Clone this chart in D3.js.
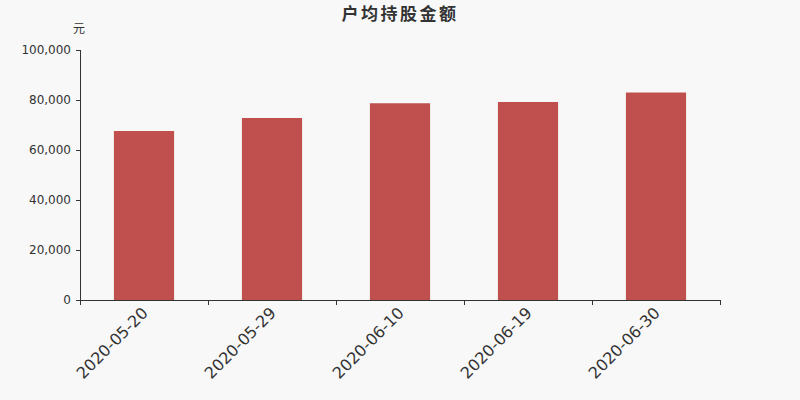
<!DOCTYPE html>
<html lang="zh">
  <head>
    <meta charset="utf-8">
    <title>户均持股金额</title>
    <script src="https://d3js.org/d3.v7.min.js"></script>
    <style>
      body { margin: 0; background: #f8f8f8; }
      text { font-family: "DejaVu Sans", sans-serif; }
    </style>
  </head>
  <body>
    <script type="text/javascript">

      var w = 800;
      var h = 400;
      var margin = {top: 50, right: 80, bottom: 100, left: 80};

      var dates = ["2020-05-20", "2020-05-29", "2020-06-10", "2020-06-19", "2020-06-30"];
      var amounts = [67600, 72800, 78700, 79200, 83000];
      var yticks = [0, 20000, 40000, 60000, 80000, 100000];

      var svg = d3.select("body")
          .append("svg")
          .attr("width", w)
          .attr("height", h)
          .style("background", "#f8f8f8");

      var xscale = d3.scaleBand()
            .domain(dates)
            .range([margin.left, w - margin.right])
            .paddingInner(0.53)
            .paddingOuter(0.265);

      var xband = d3.scaleBand()
            .domain(dates)
            .range([margin.left, w - margin.right]);

      var yscale = d3.scaleLinear()
            .domain([0, 100000])
            .range([h - margin.bottom, margin.top]);

      // title + unit
      svg.append("text")
        .attr("x", 400)
        .attr("y", 20)
        .attr("text-anchor", "middle")
        .attr("font-size", 17)
        .attr("font-weight", "bold")
        .attr("letter-spacing", 2.5)
        .attr("fill", "#333")
        .style("font-family", "'Noto Sans CJK SC', sans-serif")
        .text("户均持股金额");

      svg.append("text")
        .attr("x", 79)
        .attr("y", 33)
        .attr("text-anchor", "middle")
        .attr("font-size", 12)
        .attr("fill", "#333")
        .style("font-family", "'Noto Sans CJK SC', sans-serif")
        .text("元");

      // bars
      svg.append("g")
        .selectAll("rect")
        .data(dates)
        .enter()
        .append("rect")
        .attr("x", d => xscale(d))
        .attr("y", (d, i) => yscale(amounts[i]))
        .attr("width", xscale.bandwidth())
        .attr("height", (d, i) => yscale(0) - yscale(amounts[i]))
        .attr("fill", "#c0504d");

      // y axis
      var y_axis = d3.axisLeft(yscale)
            .tickValues(yticks)
            .tickSize(4)
            .tickPadding(5)
            .tickFormat(d3.format(","));

      var gy = svg.append("g")
        .attr("transform", "translate(" + margin.left + ",0)")
        .call(y_axis);
      gy.selectAll("text").attr("font-size", 12).attr("fill", "#333");
      gy.selectAll("line, path").attr("stroke", "#333");
      gy.select(".domain").attr("d", "M" + 0.5 + "," + yscale(100000) + "V" + yscale(0));

      // x axis
      var x_axis = d3.axisBottom(xband)
            .tickSize(0)
            .tickFormat("");

      var gx = svg.append("g")
        .attr("transform", "translate(0," + (h - margin.bottom) + ")")
        .call(x_axis);
      gx.selectAll("line, path").attr("stroke", "#333");

      // boundary ticks between categories
      var bounds = dates.map(d => xband(d)).concat([w - margin.right]);
      gx.selectAll("line.bound")
        .data(bounds)
        .enter()
        .append("line")
        .attr("class", "bound")
        .attr("x1", d => d + 0.5)
        .attr("x2", d => d + 0.5)
        .attr("y1", 0)
        .attr("y2", 5)
        .attr("stroke", "#333");

      gx.selectAll("text.lbl")
        .data(dates)
        .enter()
        .append("text")
        .attr("class", "lbl")
        .attr("text-anchor", "end")
        .attr("font-size", 16)
        .attr("fill", "#333")
        .attr("transform", d => "translate(" + (xband(d) + xband.bandwidth() / 2 + 5) + ",14) rotate(-45)")
        .text(d => d);

    </script>
  </body>
</html>
